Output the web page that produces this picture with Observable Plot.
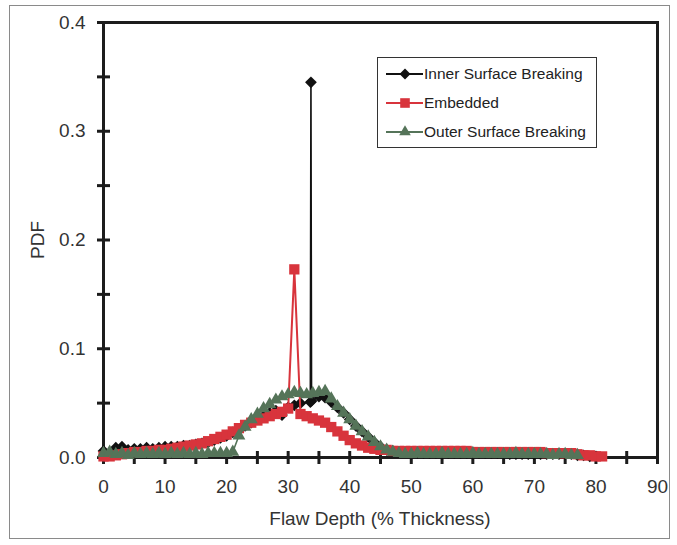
<!DOCTYPE html>
<html>
<head>
<meta charset="utf-8">
<script src="https://cdn.jsdelivr.net/npm/d3@7"></script>
<script src="https://cdn.jsdelivr.net/npm/@observablehq/plot@0.6"></script>
<style>
  html, body { margin: 0; padding: 0; background: #fff; }
  #wrap { position: relative; width: 677px; height: 545px; font-family: "Liberation Sans", Arial, sans-serif; color: #333; }
  #outer { position: absolute; left: 9px; top: 5px; width: 661px; height: 534px; border: 1px solid #8a8a8a; box-sizing: border-box; pointer-events: none; }
  .title { position: absolute; font-size: 19px; line-height: 19px; white-space: nowrap; color: #333; }
  #xtitle { left: 103px; width: 554px; top: 509px; text-align: center; }
  #ytitle { left: 37px; top: 240px; transform: translate(-50%, -50%) rotate(-90deg); }
  #legend { position: absolute; left: 377px; top: 57px; width: 220px; height: 91px; border: 1.5px solid #333; box-sizing: border-box; background: #fff; }
  .row { position: absolute; left: 0; height: 20px; display: flex; align-items: center; }
  .row svg { width: 46px; height: 20px; flex: none; }
  .row span { font-size: 15.5px; line-height: 20px; color: #222; white-space: nowrap; }
</style>
</head>
<body>
<div id="wrap">
  <div id="chart"></div>
  <div id="outer"></div>
  <div id="ytitle" class="title">PDF</div>
  <div id="xtitle" class="title">Flaw Depth (% Thickness)</div>
  <div id="legend"></div>
</div>
<script>
// ---- Data ----
const seriesNames = ["Inner Surface Breaking", "Embedded", "Outer Surface Breaking"];
const seriesColors = ["#111111", "#d8343c", "#557459"];

const innerX = [0,1,2,3,4,5,6,7,8,9,10,11,12,13,14,15,16,17,18,19,20,21,22,23,24,25,26,27,28,29,30,31,32,33.6,33.7,33.8,35,36,37,38,39,40,41,42,43,44,45,46,47,48,49,50,51,52,53,54,55,56,57,58,59,60,61,62,63,64,65,66,67,68,69,70,71,72,73,74,75,76,77,78,79,80];
const innerPDF = [0.006,0.004,0.009,0.010,0.007,0.008,0.008,0.009,0.008,0.009,0.010,0.010,0.010,0.011,0.011,0.012,0.013,0.014,0.016,0.018,0.020,0.023,0.026,0.029,0.032,0.035,0.038,0.041,0.043,0.039,0.046,0.048,0.050,0.051,0.345,0.052,0.056,0.055,0.051,0.046,0.041,0.035,0.029,0.024,0.019,0.014,0.010,0.007,0.006,0.005,0.005,0.005,0.004,0.004,0.004,0.004,0.004,0.004,0.004,0.004,0.004,0.004,0.004,0.004,0.004,0.004,0.004,0.003,0.003,0.003,0.003,0.003,0.003,0.003,0.003,0.003,0.003,0.003,0.002,0.002,0.001,0.001];

const embeddedX = [0,1,2,3,4,5,6,7,8,9,10,11,12,13,14,15,16,17,18,19,20,21,22,23,24,25,26,27,28,29,30,31,32,33,34,35,36,37,38,39,40,41,42,43,44,45,46,47,48,49,50,51,52,53,54,55,56,57,58,59,60,61,62,63,64,65,66,67,68,69,70,71,72,73,74,75,76,77,78,79,80,81];
const embeddedPDF = [0.001,0.001,0.002,0.003,0.004,0.005,0.005,0.006,0.006,0.007,0.007,0.008,0.009,0.010,0.011,0.012,0.013,0.015,0.017,0.019,0.021,0.024,0.027,0.030,0.032,0.034,0.036,0.038,0.040,0.042,0.045,0.173,0.040,0.038,0.036,0.034,0.032,0.028,0.024,0.020,0.016,0.013,0.011,0.009,0.008,0.007,0.007,0.006,0.006,0.006,0.006,0.006,0.006,0.006,0.006,0.006,0.006,0.006,0.006,0.006,0.005,0.005,0.005,0.005,0.005,0.005,0.005,0.005,0.005,0.005,0.005,0.005,0.004,0.004,0.004,0.004,0.004,0.003,0.002,0.002,0.001,0.001];

const outerX = [0,1,2,3,4,5,6,7,8,9,10,11,12,13,14,15,16,17,18,19,20,21,22,23,24,25,26,27,28,29,30,31,32,33,34,35,36,37,38,39,40,41,42,43,44,45,46,47,48,49,50,51,52,53,54,55,56,57,58,59,60,61,62,63,64,65,66,67,68,69,70,71,72,73,74,75,76,77];
const outerPDF = [0.004,0.005,0.003,0.004,0.002,0.004,0.003,0.004,0.003,0.004,0.003,0.004,0.003,0.004,0.003,0.004,0.003,0.004,0.004,0.004,0.004,0.005,0.020,0.028,0.035,0.040,0.045,0.049,0.053,0.056,0.058,0.060,0.059,0.058,0.059,0.060,0.061,0.054,0.047,0.041,0.035,0.029,0.024,0.019,0.014,0.010,0.007,0.005,0.004,0.003,0.003,0.004,0.003,0.003,0.003,0.004,0.003,0.003,0.003,0.003,0.004,0.003,0.003,0.003,0.003,0.003,0.003,0.004,0.003,0.003,0.003,0.003,0.003,0.002,0.003,0.003,0.002,0.002];

const xTickLabels = [0,10,20,30,40,50,60,70,80,90];
const xTickMarks = [0,5,10,15,20,25,30,35,40,45,50,55,60,65,70,75,80,85,90];
const yTickLabels = [0,0.1,0.2,0.3,0.4];
const yTickMarks = [0,0.05,0.1,0.15,0.2,0.25,0.3,0.35,0.4];

// ---- Build tables ----
const toRows = (xs, ys) => xs.map((x, i) => ({x, y: ys[i]}));
const inner = toRows(innerX, innerPDF);
const embedded = toRows(embeddedX, embeddedPDF);
const outer = toRows(outerX, outerPDF);

// custom cross-tick symbols
const vTick = {draw(ctx) { ctx.moveTo(0, -6.5); ctx.lineTo(0, 6.5); }};
const hTick = {draw(ctx) { ctx.moveTo(-6.5, 0); ctx.lineTo(6.5, 0); }};

const axisColor = "#1c1c1c";

const chart = Plot.plot({
  width: 677,
  height: 545,
  marginLeft: 103,
  marginRight: 20,
  marginTop: 22,
  marginBottom: 88,
  style: {fontFamily: "'Liberation Sans', Arial, sans-serif", fontSize: "19px", color: "#333", background: "transparent", overflow: "visible"},
  x: {domain: [0, 90]},
  y: {domain: [0, 0.4]},
  marks: [
    Plot.axisX(xTickLabels, {tickSize: 0, tickPadding: 22, label: null, fontSize: 19, fill: "#333"}),
    Plot.axisY(yTickLabels, {tickSize: 0, tickPadding: 18, label: null, fontSize: 19, fill: "#333", tickFormat: d3.format(".1f")}),
    Plot.frame({stroke: axisColor, strokeWidth: 3}),
    Plot.dot(xTickMarks, {x: d => d, y: () => 0, symbol: vTick, stroke: axisColor, strokeWidth: 3, fill: "none"}),
    Plot.dot(yTickMarks, {x: () => 0, y: d => d, symbol: hTick, stroke: axisColor, strokeWidth: 3, fill: "none"}),
    // Inner Surface Breaking
    Plot.line(inner, {x: "x", y: "y", stroke: seriesColors[0], strokeWidth: 1.6}),
    Plot.dot(inner, {x: "x", y: "y", symbol: "diamond2", r: 5.3, fill: seriesColors[0], stroke: "none"}),
    // Embedded
    Plot.line(embedded, {x: "x", y: "y", stroke: seriesColors[1], strokeWidth: 2}),
    Plot.dot(embedded, {x: "x", y: "y", symbol: "square", r: 5.8, fill: seriesColors[1], stroke: "none"}),
    // Outer Surface Breaking
    Plot.line(outer, {x: "x", y: "y", stroke: seriesColors[2], strokeWidth: 1.6}),
    Plot.dot(outer, {x: "x", y: "y", symbol: "triangle", r: 4.8, fill: seriesColors[2], stroke: "none"})
  ]
});
document.getElementById("chart").appendChild(chart);

// ---- Legend ----
const markerPaths = [
  "M27,4.5 L32.5,10 L27,15.5 L21.5,10 Z",          // diamond
  "M22.2,5.2 L31.8,5.2 L31.8,14.8 L22.2,14.8 Z",   // square
  "M27,3.3 L32.8,13.3 L21.2,13.3 Z"                 // triangle
];
const legend = document.getElementById("legend");
seriesNames.forEach((name, i) => {
  const row = document.createElement("div");
  row.className = "row";
  row.style.top = (6 + i * 29) + "px";
  row.innerHTML =
    `<svg viewBox="0 0 46 20"><line x1="8" x2="45" y1="10" y2="10" stroke="${seriesColors[i]}" stroke-width="2"/>` +
    `<path d="${markerPaths[i]}" fill="${seriesColors[i]}"/></svg><span>${name}</span>`;
  legend.appendChild(row);
});
</script>
</body>
</html>
